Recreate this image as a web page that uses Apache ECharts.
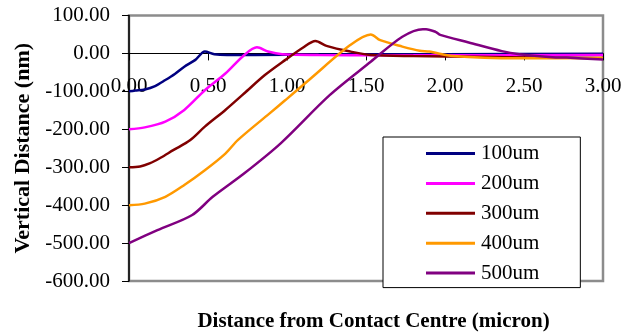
<!DOCTYPE html>
<html>
<head>
<meta charset="utf-8">
<script src="https://cdn.jsdelivr.net/npm/echarts@6/dist/echarts.min.js"></script>
<style>html,body{margin:0;padding:0;background:#fff}#c{width:637px;height:334px}</style>
</head>
<body>
<div id="c"></div>
<script>
var seriesNames = ['100um', '200um', '300um', '400um', '500um'];
var seriesColors = ['#000080', '#FF00FF', '#800000', '#FF9900', '#800080'];

var x100 = [0, 0.04, 0.10, 0.165, 0.23, 0.29, 0.35, 0.42, 0.48, 0.54, 0.62, 0.8, 1.2, 2.0, 3.0];
var y100 = [-100, -98, -95, -86, -70, -54, -35, -17, 5, -2, -4, -4, -3, -2, -1];

var x200 = [0, 0.10, 0.23, 0.35, 0.48, 0.61, 0.73, 0.81, 0.88, 0.97, 1.2, 1.6, 2.0, 3.0];
var y200 = [-200, -195, -180, -149, -97, -53, -4, 16, 5, -2, -4, -5, -5, -4];

var x300 = [0, 0.07, 0.13, 0.20, 0.28, 0.386, 0.48, 0.61, 0.73, 0.86, 0.99, 1.10, 1.18, 1.25, 1.40, 1.53, 1.8, 2.2, 2.6, 3.0];
var y300 = [-300, -298, -290, -275, -255, -229, -193, -149, -105, -57, -17, 15, 33, 20, 5, -4, -7, -9, -11, -12];

var x400 = [0, 0.10, 0.23, 0.35, 0.48, 0.61, 0.69, 0.89, 0.99, 1.15, 1.40, 1.53, 1.59, 1.73, 1.84, 1.90, 2.05, 2.47, 3.0];
var y400 = [-400, -396, -378, -347, -308, -264, -228, -158, -123, -66, 22, 50, 35, 18, 7, 5, -7, -13, -12];

var x500 = [0, 0.18, 0.40, 0.53, 0.73, 0.96, 1.27, 1.53, 1.73, 1.86, 1.88, 1.94, 1.97, 2.15, 2.36, 2.47, 2.68, 2.77, 3.0];
var y500 = [-500, -466, -426, -378, -316, -237, -110, -22, 44, 64, 64, 57, 49, 29, 6, -2, -10, -11, -16];

var xs = [x100, x200, x300, x400, x500];
var ys = [y100, y200, y300, y400, y500];

function pairs(x, y) { return x.map(function (v, i) { return [v, y[i]]; }); }

var FONT = 'Liberation Serif';
var chart = echarts.init(document.getElementById('c'));
chart.setOption({
  animation: false,
  backgroundColor: '#fff',
  grid: {
    left: 129, right: 34, top: 15.5, bottom: 53,
    containLabel: false, outerBoundsMode: 'none',
    show: true, borderColor: '#8c8c8c', borderWidth: 2.5, backgroundColor: 'transparent'
  },
  legend: {
    orient: 'vertical',
    left: 383, top: 137,
    padding: [6, 41, 4, 43],
    icon: 'rect',
    itemWidth: 49, itemHeight: 3, itemGap: 8.9,
    backgroundColor: '#fff', borderColor: '#000', borderWidth: 1,
    textStyle: { fontFamily: FONT, fontSize: 21, color: '#000', lineHeight: 20, padding: [0, 0, 0, 1] },
    data: seriesNames
  },
  xAxis: {
    type: 'value', min: 0, max: 3, interval: 0.5,
    offset: -227.6,
    name: 'Distance from Contact Centre (micron)',
    nameLocation: 'middle', nameGap: 258,
    nameTextStyle: { fontFamily: FONT, fontSize: 21, fontWeight: 'bold', color: '#000', padding: [0, 0, 0, 15] },
    axisLine: { onZero: false, lineStyle: { color: '#000', width: 1 } },
    axisTick: { show: true, length: 7, lineStyle: { color: '#000' } },
    axisLabel: { fontFamily: FONT, fontSize: 21, color: '#000', margin: 23,
      formatter: function (v) { return v.toFixed(2); } },
    splitLine: { show: false }
  },
  yAxis: {
    type: 'value', min: -600, max: 100, interval: 100,
    name: 'Vertical Distance (nm)',
    nameLocation: 'middle', nameGap: 95,
    nameTextStyle: { fontFamily: FONT, fontSize: 22, fontWeight: 'bold', color: '#000' },
    axisLine: { show: true, onZero: false, lineStyle: { color: '#000', width: 1.5 } },
    axisTick: { show: true, length: 7, lineStyle: { color: '#000' } },
    axisLabel: { fontFamily: FONT, fontSize: 21, color: '#000', margin: 19,
      formatter: function (v) { return v.toFixed(2); } },
    splitLine: { show: false }
  },
  series: seriesNames.map(function (n, i) {
    return {
      name: n, type: 'line', data: pairs(xs[i], ys[i]),
      showSymbol: false, symbol: 'none', smooth: 0.3,
      lineStyle: { color: seriesColors[i], width: 2.5 },
      itemStyle: { color: seriesColors[i] }
    };
  })
});
</script>
</body>
</html>
